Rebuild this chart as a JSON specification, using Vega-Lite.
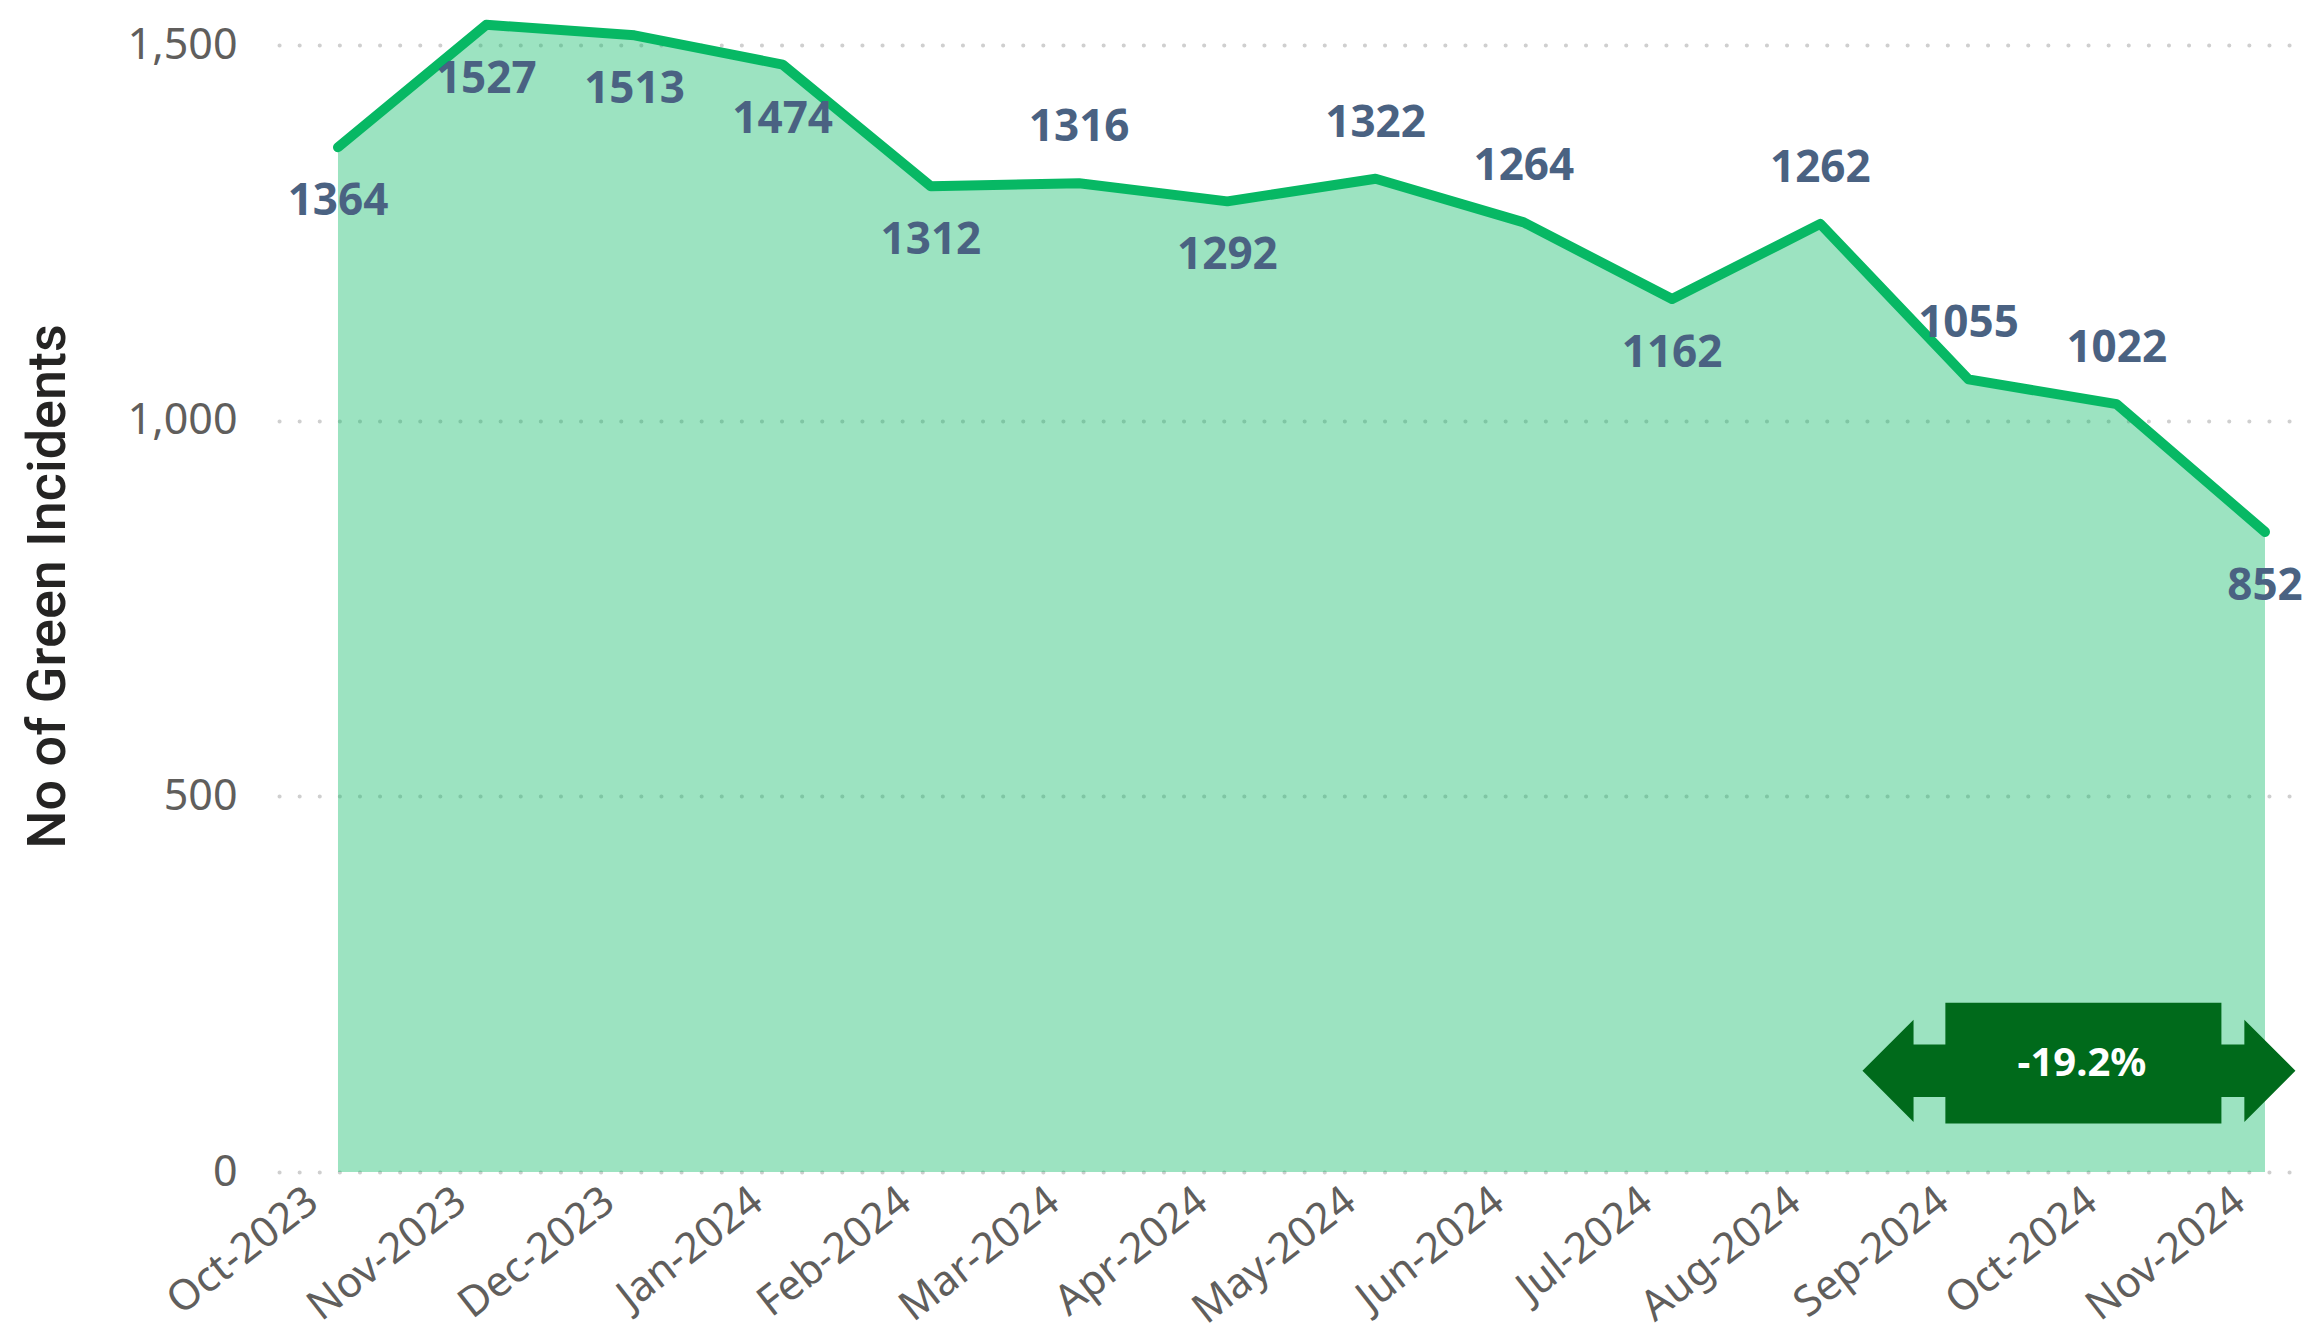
{
  "$schema": "https://vega.github.io/schema/vega-lite/v6.json",
  "width": 2026,
  "height": 1172,
  "autosize": "none",
  "padding": {"left": 279, "top": 0, "right": 5, "bottom": 167},
  "background": "white",
  "config": {"view": {"stroke": null}, "font": "Noto Sans"},
  "datasets": {
    "main": [
      {"month": "Oct-2023", "idx": 0, "incidents": 1364},
      {"month": "Nov-2023", "idx": 1, "incidents": 1527},
      {"month": "Dec-2023", "idx": 2, "incidents": 1513},
      {"month": "Jan-2024", "idx": 3, "incidents": 1474},
      {"month": "Feb-2024", "idx": 4, "incidents": 1312},
      {"month": "Mar-2024", "idx": 5, "incidents": 1316},
      {"month": "Apr-2024", "idx": 6, "incidents": 1292},
      {"month": "May-2024", "idx": 7, "incidents": 1322},
      {"month": "Jun-2024", "idx": 8, "incidents": 1264},
      {"month": "Jul-2024", "idx": 9, "incidents": 1162},
      {"month": "Aug-2024", "idx": 10, "incidents": 1262},
      {"month": "Sep-2024", "idx": 11, "incidents": 1055},
      {"month": "Oct-2024", "idx": 12, "incidents": 1022},
      {"month": "Nov-2024", "idx": 13, "incidents": 852}
    ],
    "note": [
      {"idx": 11.745, "incidents": 134.7, "label": "-19.2%"}
    ]
  },
  "layer": [
    {
      "data": {"name": "main"},
      "mark": {"type": "area", "color": "#07B864", "opacity": 0.4},
      "encoding": {
        "x": {
          "field": "idx", "type": "quantitative",
          "scale": {"domain": [-0.398, 13.27], "nice": false, "zero": false},
          "axis": {
            "values": [0,1,2,3,4,5,6,7,8,9,10,11,12,13],
            "labelExpr": "['Oct-2023','Nov-2023','Dec-2023','Jan-2024','Feb-2024','Mar-2024','Apr-2024','May-2024','Jun-2024','Jul-2024','Aug-2024','Sep-2024','Oct-2024','Nov-2024'][datum.value]",
            "labelAngle": -38,
            "labelFontSize": 42,
            "labelColor": "#605E5C",
            "labelFlush": false,
            "labelOverlap": false,
            "labelBound": false,
            "labelLimit": 0,
            "labelPadding": 8,
            "labelOffset": -38,
            "domain": false,
            "ticks": false,
            "grid": false,
            "title": null
          }
        },
        "y": {
          "field": "incidents", "type": "quantitative",
          "scale": {"domain": [0, 1560], "nice": false},
          "axis": {
            "values": [0, 500, 1000, 1500],
            "format": ",d",
            "labelFontSize": 43,
            "labelColor": "#605E5C",
            "labelPadding": 42,
            "labelFlush": false,
            "domain": false,
            "ticks": false,
            "grid": true,
            "gridDash": [0.1, 20],
            "gridCap": "round",
            "gridWidth": 4,
            "gridColor": "#CFCFCF",
            "title": "No of Green Incidents",
            "titleFont": "Roboto",
            "titleFontSize": 54,
            "titleFontWeight": 500,
            "titleColor": "#252423",
            "titlePadding": 52
          }
        }
      }
    },
    {
      "data": {"name": "main"},
      "mark": {"type": "line", "color": "#07B864", "strokeWidth": 10, "strokeCap": "round", "strokeJoin": "round"},
      "encoding": {
        "x": {"field": "idx", "type": "quantitative"},
        "y": {"field": "incidents", "type": "quantitative"}
      }
    },
    {
      "data": {"name": "main"},
      "transform": [{"filter": "indexof(['Mar-2024','May-2024','Jun-2024','Aug-2024','Sep-2024','Oct-2024'], datum.month) < 0"}],
      "mark": {"type": "text", "fontSize": 44, "fontWeight": "bold", "color": "#4A6282", "dy": 55, "baseline": "middle", "align": "center"},
      "encoding": {
        "x": {"field": "idx", "type": "quantitative"},
        "y": {"field": "incidents", "type": "quantitative"},
        "text": {"field": "incidents", "type": "quantitative", "format": "d"}
      }
    },
    {
      "data": {"name": "main"},
      "transform": [{"filter": "indexof(['Mar-2024','May-2024','Jun-2024','Aug-2024','Sep-2024','Oct-2024'], datum.month) >= 0"}],
      "mark": {"type": "text", "fontSize": 44, "fontWeight": "bold", "color": "#4A6282", "dy": -55, "baseline": "middle", "align": "center"},
      "encoding": {
        "x": {"field": "idx", "type": "quantitative"},
        "y": {"field": "incidents", "type": "quantitative"},
        "text": {"field": "incidents", "type": "quantitative", "format": "d"}
      }
    },
    {
      "data": {"name": "note"},
      "mark": {
        "type": "point",
        "shape": "M-1,0L-0.764,-0.236L-0.764,-0.121L-0.617,-0.121L-0.617,-0.314L0.658,-0.314L0.658,-0.121L0.764,-0.121L0.764,-0.236L1,0L0.764,0.236L0.764,0.121L0.658,0.121L0.658,0.243L-0.617,0.243L-0.617,0.121L-0.764,0.121L-0.764,0.236Z",
        "size": 187489,
        "filled": true,
        "color": "#006A1B",
        "opacity": 1,
        "strokeWidth": 0
      },
      "encoding": {
        "x": {"field": "idx", "type": "quantitative"},
        "y": {"field": "incidents", "type": "quantitative"}
      }
    },
    {
      "data": {"name": "note"},
      "mark": {"type": "text", "fontSize": 40, "fontWeight": "bold", "color": "white", "dy": -7, "dx": 3, "baseline": "middle", "align": "center"},
      "encoding": {
        "x": {"field": "idx", "type": "quantitative"},
        "y": {"field": "incidents", "type": "quantitative"},
        "text": {"field": "label", "type": "nominal"}
      }
    }
  ]
}
